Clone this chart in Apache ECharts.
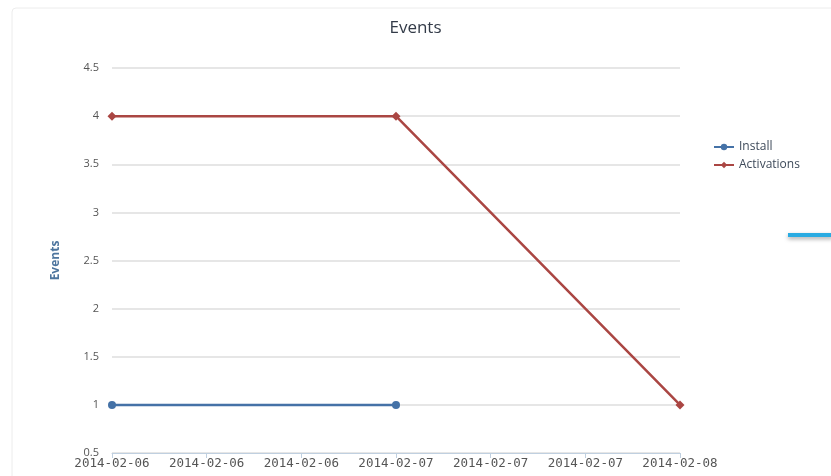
<!DOCTYPE html>
<html>
<head>
<meta charset="utf-8">
<script src="https://cdn.jsdelivr.net/npm/echarts@6/dist/echarts.min.js"></script>
<style>
html, body { margin: 0; padding: 0; background: #fff; }
#container { width: 831px; height: 476px; }
</style>
</head>
<body>
<div id="container"></div>
<script>
var dates = ['2014-02-06', '2014-02-06', '2014-02-06', '2014-02-07', '2014-02-07', '2014-02-07', '2014-02-08'];
var installData = [1, null, null, 1, null, null, null];
var activationsData = [4, null, null, 4, null, null, 1];

var dom = document.getElementById("container");
var myChart = echarts.init(dom);

var option = {
    animation: false,
    backgroundColor: '#fff',
    title: {
        text: 'Events',
        left: 'center',
        top: 15,
        textStyle: {
            fontFamily: 'Open Sans',
            fontWeight: 'normal',
            fontSize: 17,
            color: '#333b48'
        }
    },
    legend: {
        orient: 'vertical',
        left: 708,
        top: 136,
        itemWidth: 20,
        itemHeight: 8,
        itemGap: 6,
        textStyle: {
            fontFamily: 'Open Sans',
            fontSize: 12,
            color: '#3e4a5a',
            padding: [0, 0, 0, 0]
        },
        data: ['Install', 'Activations']
    },
    graphic: [{
        type: 'rect',
        shape: { x: 12, y: 8, width: 840, height: 480, r: 4 },
        style: { fill: 'none', stroke: '#ececec', lineWidth: 1 },
        silent: true
    }, {
        type: 'rect',
        shape: { x: 788, y: 233, width: 45, height: 4 },
        style: { fill: '#29abe2', shadowBlur: 4, shadowColor: 'rgba(0,0,0,0.35)', shadowOffsetY: 2 },
        silent: true
    }],
    grid: {
        left: 112,
        right: 151,
        top: 68,
        bottom: 23
    },
    xAxis: {
        type: 'category',
        data: dates,
        boundaryGap: false,
        axisLine: { lineStyle: { color: '#c0d0e0', width: 1 } },
        axisTick: { show: true, length: 5, lineStyle: { color: '#c0d0e0' } },
        axisLabel: {
            interval: 0,
            margin: 4,
            fontFamily: 'DejaVu Sans Mono',
            fontSize: 12.5,
            color: '#555'
        },
        splitLine: { show: false }
    },
    yAxis: {
        type: 'value',
        min: 0.5,
        max: 4.5,
        interval: 0.5,
        name: 'Events',
        nameLocation: 'middle',
        nameGap: 50,
        nameTextStyle: {
            fontFamily: 'Open Sans',
            fontSize: 12,
            fontWeight: 'bold',
            color: '#4d759e'
        },
        axisLine: { show: false },
        axisTick: { show: false },
        axisLabel: {
            margin: 13,
            fontFamily: 'Open Sans',
            fontSize: 11,
            color: '#555'
        },
        splitLine: { lineStyle: { color: '#dedede', width: 1.5 } }
    },
    series: [{
        name: 'Install',
        type: 'line',
        data: installData,
        connectNulls: true,
        symbol: 'circle',
        symbolSize: 8,
        color: '#4572a7',
        lineStyle: { width: 2.5 },
        itemStyle: { color: '#4572a7' }
    }, {
        name: 'Activations',
        type: 'line',
        data: activationsData,
        connectNulls: true,
        symbol: 'diamond',
        symbolSize: 9,
        color: '#aa4643',
        lineStyle: { width: 2.5 },
        itemStyle: { color: '#aa4643' }
    }]
};

myChart.setOption(option);
</script>
</body>
</html>
